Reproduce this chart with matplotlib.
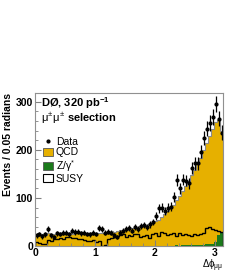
import matplotlib
matplotlib.use('Agg')
import matplotlib.pyplot as plt
from matplotlib.lines import Line2D
from matplotlib.patches import Patch
from matplotlib.ticker import MultipleLocator
import numpy as np

plt.rcParams['font.family'] = ['Liberation Sans', 'DejaVu Sans']
plt.rcParams['mathtext.fontset'] = 'custom'
plt.rcParams['mathtext.rm'] = 'Liberation Sans'
plt.rcParams['mathtext.it'] = 'Liberation Sans'
plt.rcParams['mathtext.bf'] = 'Liberation Sans:bold'

# 0.05 rad bins between 0 and pi
edges = np.linspace(0, np.pi, 64)

data = [22, 25, 20, 24, 36, 22, 18, 26, 25, 28,
        27, 24, 32, 29, 30, 26, 28, 25, 24, 27,
        25, 38, 36, 28, 30, 27, 22, 18, 28, 32,
        35, 38, 32, 40, 36, 42, 44, 40, 45, 50,
        62, 78, 80, 72, 80, 82, 102, 137, 120, 138,
        136, 130, 162, 172, 172, 196, 225, 244, 256, 268,
        295, 265, 236]

qcd = [22, 24, 25, 23, 26, 25, 24, 27, 26, 25,
       26, 27, 25, 28, 27, 26, 27, 25, 26, 27,
       26, 28, 27, 29, 30, 31, 30, 32, 33, 34,
       34, 36, 37, 38, 39, 41, 42, 44, 46, 48,
       51, 55, 60, 66, 72, 78, 86, 95, 104, 114,
       123, 134, 146, 157, 169, 182, 196, 210, 224, 238,
       248, 240, 212]

zgamma = [0] * 45 + [0, 0, 1, 0, 1, 2, 1, 2, 2, 3,
                     2, 3, 4, 4, 5, 9, 22, 28]

susy = [8, 7, 5, 4, 12, 10, 15, 14, 16, 15,
        19, 18, 16, 17, 15, 14, 12, 11, 10, 12,
        9, 10, 0, 1, 14, 16, 18, 20, 22, 24,
        18, 22, 20, 24, 25, 18, 20, 22, 16, 24,
        26, 20, 30, 28, 22, 24, 26, 20, 28, 22,
        25, 22, 20, 24, 22, 25, 28, 38, 40, 36,
        34, 32, 30]

orange = '#E6B000'
green = '#1B7A1B'

fig = plt.figure(figsize=(2.49, 2.73), dpi=100)
ax = fig.add_axes([0.1406, 0.099, 0.755, 0.56])

data = np.array(data, dtype=float)
qcd = np.array(qcd, dtype=float)
zgamma = np.array(zgamma, dtype=float)
centers = 0.5 * (edges[:-1] + edges[1:])
top = zgamma + qcd

# stacked backgrounds
ax.stairs(top, edges, baseline=zgamma, fill=True, color=orange)
ax.stairs(zgamma, edges, baseline=0, fill=True, color=green)
ax.stairs(top, edges, color='#8a8a8a', lw=0.8)
# signal
ax.stairs(susy, edges, color='black', lw=1.0)
# data
ax.errorbar(centers, data, yerr=np.sqrt(data), fmt='o', ms=2.0,
            color='black', elinewidth=0.9, capsize=0)

ax.set_xlim(0, np.pi)
ax.set_ylim(0, 318)
ax.xaxis.set_major_locator(MultipleLocator(1))
ax.xaxis.set_minor_locator(MultipleLocator(0.2))
ax.yaxis.set_major_locator(MultipleLocator(100))
ax.yaxis.set_minor_locator(MultipleLocator(20))
ax.tick_params(which='both', direction='in', color='#808080',
               labelsize=7.5, pad=1.5)
ax.tick_params(which='major', length=4)
ax.tick_params(which='minor', length=2)
for lab in ax.get_xticklabels() + ax.get_yticklabels():
    lab.set_fontweight('bold')
for sp in ax.spines.values():
    sp.set_color('#909090')
    sp.set_linewidth(0.8)

ax.set_ylabel('Events / 0.05 radians', fontsize=7.5, fontweight='bold',
              loc='top', labelpad=2)
ax.set_xlabel(r'$\Delta\phi_{\mu\mu}$', fontsize=7, loc='right')
ax.xaxis.set_label_coords(1.0, -0.075)

ax.text(0.03, 0.935, r'DØ, 320 pb$^{\mathbf{-1}}$', transform=ax.transAxes,
        fontsize=8, fontweight='bold', va='center', ha='left')
ax.text(0.03, 0.835, r'$\mu^{\pm}\mu^{\pm}$ $\mathbf{selection}$',
        transform=ax.transAxes, fontsize=8, va='center', ha='left')

handles = [Line2D([], [], marker='o', ms=2.0, color='black', ls='none'),
           Patch(facecolor=orange, edgecolor='#555555', lw=0.6),
           Patch(facecolor=green, edgecolor='#555555', lw=0.6),
           Patch(facecolor='white', edgecolor='black', lw=0.8)]
labels = ['Data', 'QCD', r'Z/$\gamma^{*}$', 'SUSY']
ax.legend(handles, labels, loc='upper left', bbox_to_anchor=(0.045, 0.715),
          frameon=False, fontsize=7.5, handlelength=0.9, handleheight=0.8,
          handletextpad=0.3, labelspacing=0.05, borderaxespad=0,
          borderpad=0)

fig.savefig('out.png', dpi=100)
